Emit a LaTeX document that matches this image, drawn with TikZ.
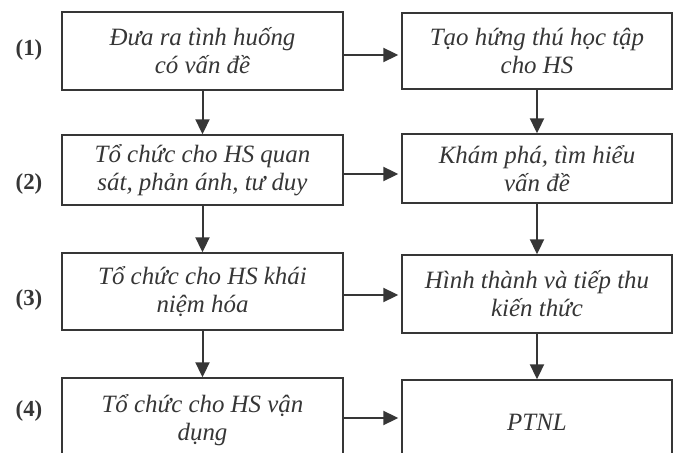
\documentclass[tikz,border=0pt]{standalone}
\usepackage{fontspec}
\setmainfont{Liberation Serif}
\usetikzlibrary{arrows.meta}
\definecolor{ink}{HTML}{363636}
\tikzset{
  stepbox/.style={draw=ink, line width=1.4bp, rectangle, inner sep=0pt,
    align=center, text=ink, font=\fontsize{25}{28}\selectfont\itshape},
  rowlabel/.style={text=ink, font=\fontsize{23}{26}\selectfont\bfseries},
  arr/.style={draw=ink, line width=2bp, -{Triangle[length=15bp,width=14bp]}},
}
\begin{document}
\begin{tikzpicture}[x=1bp,y=-1bp]
\useasboundingbox (0,0) rectangle (677,453);
\clip (0,0) rectangle (677,453);
\fill[white] (0,0) rectangle (677,453);

% left column
\node[stepbox, minimum width=281bp, minimum height=78bp] (L1) at (202.5,51)
  {Đưa ra tình huống\\có vấn đề};
\node[stepbox, minimum width=281bp, minimum height=70bp] (L2) at (202.5,170)
  {Tổ chức cho HS quan\\sát, phản ánh, tư duy};
\node[stepbox, minimum width=281bp, minimum height=77bp] (L3) at (202.5,291.5)
  {Tổ chức cho HS khái\\niệm hóa};
\node[stepbox, minimum width=281bp, minimum height=84bp] (L4) at (202.5,420)
  {Tổ chức cho HS vận\\dụng};

% right column
\node[stepbox, minimum width=270bp, minimum height=76bp] (R1) at (537,51)
  {Tạo hứng thú học tập\\cho HS};
\node[stepbox, minimum width=270bp, minimum height=69bp] (R2) at (537,168.5)
  {Khám phá, tìm hiểu\\vấn đề};
\node[stepbox, minimum width=270bp, minimum height=78bp] (R3) at (537,294)
  {Hình thành và tiếp thu\\kiến thức};
\node[stepbox, minimum width=270bp, minimum height=84bp] (R4) at (537,422)
  {PTNL};

% row labels
\node[rowlabel] (n1) at (29,50) {(1)};
\node[rowlabel] (n2) at (29,184) {(2)};
\node[rowlabel] (n3) at (29,300) {(3)};
\node[rowlabel] (n4) at (29,411) {(4)};

% vertical arrows
\draw[arr] (L1) -- (L2);
\draw[arr] (L2) -- (L3);
\draw[arr] (L3) -- (L4);
\draw[arr] (R1) -- (R2);
\draw[arr] (R2) -- (R3);
\draw[arr] (R3) -- (R4);

% horizontal arrows, each leaving its left box a little below the centre
\coordinate (h1) at ([yshift=-4bp]L1.east);
\coordinate (h2) at ([yshift=-4bp]L2.east);
\coordinate (h3) at ([yshift=-3.5bp]L3.east);
\coordinate (h4) at ([yshift=2bp]L4.east);
\draw[arr] (h1) -- ([xshift=-3bp]R1.west |- h1);
\draw[arr] (h2) -- ([xshift=-3bp]R2.west |- h2);
\draw[arr] (h3) -- ([xshift=-3bp]R3.west |- h3);
\draw[arr] (h4) -- ([xshift=-3bp]R4.west |- h4);
\end{tikzpicture}
\end{document}
